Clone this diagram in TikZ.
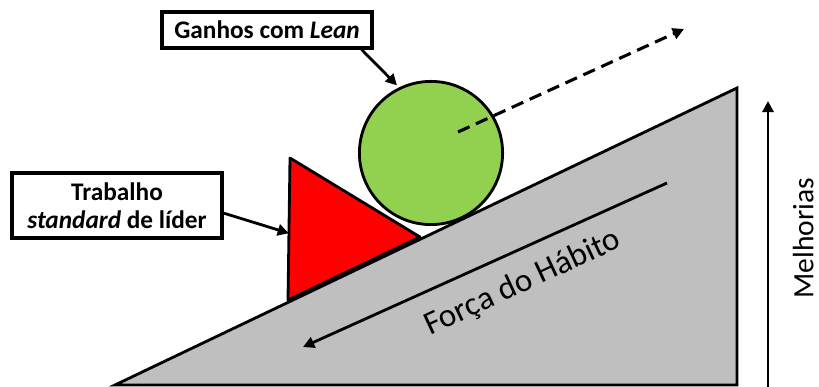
\documentclass[tikz,border=0pt]{standalone}
\usepackage{fontspec}
\setmainfont{Carlito}
\usetikzlibrary{arrows.meta, calc}
\definecolor{ramp}{RGB}{191, 191, 191}
\definecolor{leangreen}{RGB}{146, 208, 80}
\definecolor{leaderred}{RGB}{255, 0, 0}

\begin{document}
\begin{tikzpicture}[
    labelbox/.style={draw, line width=2.2pt, fill=white, align=center, inner sep=0pt,
      minimum width=5.25cm, font=\bfseries\fontsize{18}{20}\selectfont},
    pointer/.style={-{Triangle[length=8pt, width=8pt]}, line width=2pt}]
  \useasboundingbox (0, 0) rectangle (20.475, 9.675);

  % the slope
  \filldraw[draw=black, fill=ramp, line width=2pt]
    (2.875, 0.05) -- (18.425, 7.475) -- (18.425, 0.05) -- cycle;

  % wedge holding the ball
  \coordinate (wtop) at (7.25, 5.725);
  \coordinate (wbot) at (7.2, 2.175);
  \coordinate (wtip) at (10.5, 3.75);
  \filldraw[draw=black, fill=leaderred, line width=2pt, line join=round]
    (wtop) -- (wbot) -- (wtip) -- cycle;

  % the ball
  \node[circle, draw, fill=leangreen, line width=2pt, minimum size=3.58cm, inner sep=0pt]
    (ball) at (10.775, 5.85) {};

  % habit pulls down the slope
  \coordinate (habitstart) at (16.675, 5.1);
  \coordinate (habitend) at (7.575, 1.0);
  \draw[pointer] (habitstart) -- (habitend);
  \node[font=\fontsize{23.5}{28}\selectfont, rotate=25, inner sep=0pt]
    (habit) at (13.075, 2.6) {Força do Hábito};

  % direction of the ball
  \coordinate (rollstart) at (11.45, 6.375);
  \coordinate (rollend) at (17.1, 8.95);
  \draw[pointer, line width=2.2pt, dash pattern=on 9pt off 5pt] (rollstart) -- (rollend);

  % labels
  \node[labelbox, minimum height=0.9cm] (gains) at (6.675, 8.925) {Ganhos com \textit{Lean}};
  \draw[pointer, shorten >=2pt] ([xshift=-0.3cm]gains.south east) -- (ball.116);

  \node[labelbox, minimum height=1.625cm] (leader) at (2.925, 4.5375)
    {Trabalho\\\textit{standard} de líder};
  \draw[pointer] ([yshift=-0.19cm]leader.east) -- ($(wtop)!0.53!(wbot)$);

  % improvements axis
  \coordinate (upstart) at (19.2, 0);
  \coordinate (upend) at (19.2, 7.15);
  \draw[pointer] (upstart) -- (upend);
  \node[font=\fontsize{21}{25}\selectfont, rotate=90, inner sep=0pt]
    (better) at (20.08, 3.725) {Melhorias};
\end{tikzpicture}
\end{document}
